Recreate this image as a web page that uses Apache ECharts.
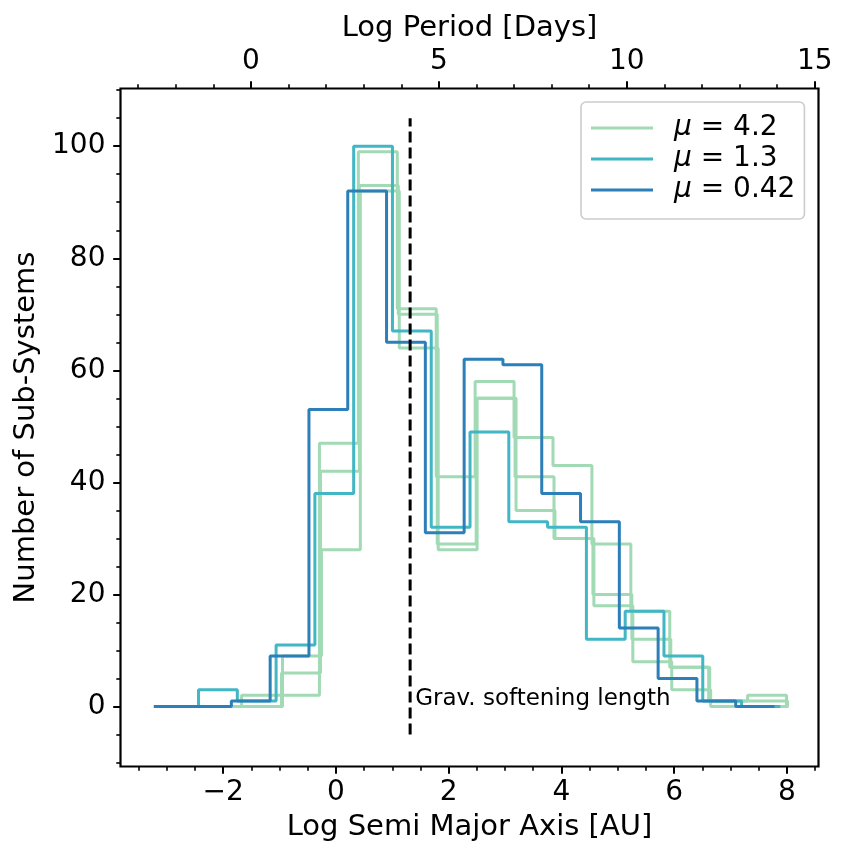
<!DOCTYPE html>
<html>
<head>
<meta charset="UTF-8">
<title>Sub-system separations</title>
<script src="https://cdn.jsdelivr.net/npm/echarts@6/dist/echarts.min.js"></script>
<style>
  html, body { margin: 0; padding: 0; background: #fff; }
  #chart { width: 848px; height: 861px; }
</style>
</head>
<body>
<div id="chart"></div>
<script>
// histogram ranges (log a [AU]) -> 16 equal bins each, counts
var nBins = 16;
var rangeG1 = [-3.053, 7.993];
var rangeG2 = [-3.035, 8.011];
var rangeG3 = [-3.018, 8.028];
var rangeCyan = [-3.124, 7.883];
var rangeBlue = [-3.23, 7.78];

var countsG1 = [0, 0, 2, 2, 47, 99, 71, 41, 58, 48, 43, 29, 17, 7, 1, 2];
var countsG2 = [0, 0, 0, 6, 42, 93, 70, 29, 55, 41, 30, 20, 12, 7, 1, 1];
var countsG3 = [0, 0, 0, 9, 28, 92, 64, 28, 55, 35, 30, 18, 8, 3, 0, 0];
var countsCyan = [0, 3, 1, 11, 38, 100, 67, 32, 49, 33, 32, 12, 17, 9, 1, 0];
var countsBlue = [0, 0, 1, 9, 53, 92, 65, 31, 62, 61, 38, 33, 14, 5, 1, 0];

var softening = 1.317;      // log a of the grav. softening length
var softeningSpan = [-5, 105];

// axes
var xRange = [-3.82, 8.56];
var yRange = [-10.7, 110.3];
var periodOffset = 2.26;    // log P = 1.5 log a + offset
var xTicks = [-2, 0, 2, 4, 6, 8];
var xMinor = [-3.5, -3, -2.5, -1.5, -1, -0.5, 0.5, 1, 1.5, 2.5, 3, 3.5, 4.5, 5, 5.5, 6.5, 7, 7.5, 8.5];
var pTicks = [0, 5, 10, 15];
var pMinor = [-3, -2, -1, 1, 2, 3, 4, 6, 7, 8, 9, 11, 12, 13, 14];
var yTicks = [0, 20, 40, 60, 80, 100];
var yMinor = [-10, -5, 5, 10, 15, 25, 30, 35, 45, 50, 55, 65, 70, 75, 85, 90, 95, 105, 110];

var colG = '#a1dab4', colC = '#41b6c4', colB = '#2c7fb8';
var FONT = 'DejaVu Sans';

function stepOutline(range, counts) {
  var w = (range[1] - range[0]) / nBins;
  var pts = [[range[0], 0]];
  for (var i = 0; i < counts.length; i++) {
    pts.push([range[0] + i * w, counts[i]]);
    pts.push([range[0] + (i + 1) * w, counts[i]]);
  }
  pts.push([range[1], 0]);
  return pts;
}

function minus(v) { return v < 0 ? '\u2212' + (-v) : String(v); }

function histSeries(name, color, range, counts) {
  return {
    name: name, type: 'line', xAxisIndex: 0, yAxisIndex: 0,
    data: stepOutline(range, counts),
    showSymbol: false, symbol: 'none',
    lineStyle: { color: color, width: 3 },
    itemStyle: { color: color },
    emphasis: { disabled: true }
  };
}

var chart = echarts.init(document.getElementById('chart'));
var noLine = { show: false, onZero: false };
var majorTick = { color: '#000', width: 2 };
var minorTick = { color: '#000', width: 1.6 };

var option = {
  animation: false,
  grid: {
    left: 120.5, right: 29.5, top: 88.5, bottom: 94.5,
    show: true, borderColor: '#000', borderWidth: 2.2, backgroundColor: 'transparent'
  },
  legend: {
    orient: 'vertical',
    left: 581, top: 102,
    padding: [12, 9, 15, 10],
    itemGap: 3,
    itemWidth: 62, itemHeight: 3,
    icon: 'rect',
    backgroundColor: 'rgba(255,255,255,0.8)',
    borderColor: '#cccccc', borderWidth: 1.6, borderRadius: 5,
    data: ['μ = 4.2', 'μ = 1.3', 'μ = 0.42'],
    formatter: function (name) { return '{mu|μ} ' + name.slice(2); },
    textStyle: {
      fontFamily: FONT, fontSize: 28, color: '#000', padding: [0, 0, 0, 16],
      rich: {
        mu: { fontFamily: FONT, fontSize: 28, fontStyle: 'italic', color: '#000' }
      }
    }
  },
  xAxis: [
    {
      type: 'value', position: 'bottom', min: xRange[0], max: xRange[1],
      name: 'Log Semi Major Axis [AU]', nameLocation: 'middle', nameGap: 46,
      nameTextStyle: { fontFamily: FONT, fontSize: 29, color: '#000' },
      axisLine: noLine,
      axisTick: { show: true, length: 7.3, customValues: xTicks, lineStyle: majorTick },
      axisLabel: { customValues: xTicks, margin: 12, fontFamily: FONT, fontSize: 28, color: '#000', formatter: minus },
      splitLine: { show: false }
    },
    {
      type: 'value', position: 'top',
      min: 1.5 * xRange[0] + periodOffset, max: 1.5 * xRange[1] + periodOffset,
      name: 'Log Period [Days]', nameLocation: 'middle', nameGap: 46,
      nameTextStyle: { fontFamily: FONT, fontSize: 29, color: '#000' },
      axisLine: noLine,
      axisTick: { show: true, length: 7.3, customValues: pTicks, lineStyle: majorTick },
      axisLabel: { customValues: pTicks, margin: 13, fontFamily: FONT, fontSize: 28, color: '#000', formatter: minus },
      splitLine: { show: false }
    },
    {
      type: 'value', position: 'bottom', min: xRange[0], max: xRange[1],
      axisLine: noLine,
      axisTick: { show: true, length: 4.2, customValues: xMinor, lineStyle: minorTick },
      axisLabel: { show: false }, splitLine: { show: false }
    },
    {
      type: 'value', position: 'top',
      min: 1.5 * xRange[0] + periodOffset, max: 1.5 * xRange[1] + periodOffset,
      axisLine: noLine,
      axisTick: { show: true, length: 4.2, customValues: pMinor, lineStyle: minorTick },
      axisLabel: { show: false }, splitLine: { show: false }
    }
  ],
  yAxis: [
    {
      type: 'value', position: 'left', min: yRange[0], max: yRange[1],
      name: 'Number of Sub-Systems', nameLocation: 'middle', nameGap: 76,
      nameTextStyle: { fontFamily: FONT, fontSize: 29, color: '#000' },
      axisLine: noLine,
      axisTick: { show: true, length: 7.3, customValues: yTicks, lineStyle: majorTick },
      axisLabel: { customValues: yTicks, margin: 15, fontFamily: FONT, fontSize: 28, color: '#000' },
      splitLine: { show: false }
    },
    {
      type: 'value', position: 'left', min: yRange[0], max: yRange[1],
      axisLine: noLine,
      axisTick: { show: true, length: 4.2, customValues: yMinor, lineStyle: minorTick },
      axisLabel: { show: false }, splitLine: { show: false }
    }
  ],
  series: [
    histSeries('μ = 4.2', colG, rangeG1, countsG1),
    histSeries('μ = 4.2', colG, rangeG2, countsG2),
    histSeries('μ = 4.2', colG, rangeG3, countsG3),
    histSeries('μ = 1.3', colC, rangeCyan, countsCyan),
    histSeries('μ = 0.42', colB, rangeBlue, countsBlue),
    {
      type: 'line', xAxisIndex: 0, yAxisIndex: 0,
      data: [[softening, softeningSpan[0]], [softening, softeningSpan[1]]],
      showSymbol: false, symbol: 'none',
      lineStyle: { color: '#000', width: 3, type: [11, 5] },
      emphasis: { disabled: true }, z: 3
    },
    {
      type: 'scatter', xAxisIndex: 0, yAxisIndex: 0,
      data: [[softening, 1.3]],
      symbolSize: 0,
      itemStyle: { color: '#000', opacity: 1 },
      label: {
        show: true, position: 'right', distance: 5, opacity: 1,
        formatter: 'Grav. softening length',
        fontFamily: FONT, fontSize: 23, color: '#000', textBorderWidth: 0
      },
      emphasis: { disabled: true }, z: 4
    }
  ]
};

chart.setOption(option);
</script>
</body>
</html>
